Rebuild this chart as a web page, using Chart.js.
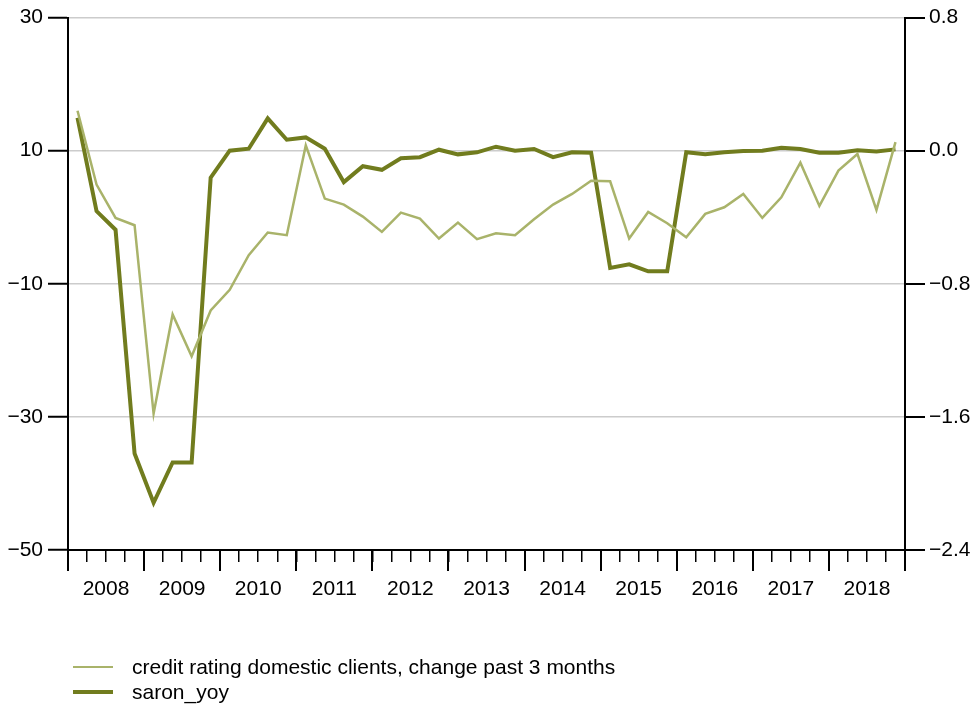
<!DOCTYPE html>
<html>
<head>
<meta charset="utf-8">
<script src="https://cdn.jsdelivr.net/npm/chart.js@4"></script>
<style>
  body { margin: 0; background: #fff; }
  #wrap { position: relative; width: 977px; height: 708px; }
  #legend { position: absolute; left: 73px; top: 654px; font: 21px "Liberation Sans", Arial, sans-serif; color: #000; }
  .item { display: flex; align-items: center; height: 25px; }
  .swatch { width: 40px; margin-right: 19px; }
</style>
</head>
<body>
<div id="wrap">
  <canvas id="chart" width="977" height="708"></canvas>
  <div id="legend"></div>
</div>
<script>
const years = ['2008', '2009', '2010', '2011', '2012', '2013', '2014', '2015', '2016', '2017', '2018'];
const leftTicks = [-50, -30, -10, 10, 30];
const rightTicks = [-2.4, -1.6, -0.8, 0.0, 0.8];

// quarterly, 2008Q1 .. 2018Q4
const creditRating = [16.0, 4.9, -0.1, -1.2, -29.5, -14.6, -20.9, -14.0, -10.9, -5.7, -2.3, -2.7,
  10.8, 2.8, 1.9, 0.1, -2.2, 0.7, -0.2, -3.2, -0.8, -3.3, -2.4, -2.7,
  -0.3, 1.9, 3.5, 5.5, 5.4, -3.2, 0.8, -0.9, -3.0, 0.5, 1.5, 3.5,
  -0.1, 3.0, 8.2, 1.7, 7.0, 9.5, 1.1, 11.3];
const saronYoy = [0.198, -0.363, -0.475, -1.82, -2.116, -1.874, -1.874, -0.162, 0.0, 0.012, 0.194, 0.066,
  0.08, 0.012, -0.189, -0.093, -0.115, -0.045, -0.039, 0.006, -0.022, -0.01, 0.024, 0.0,
  0.01, -0.039, -0.009, -0.012, -0.705, -0.683, -0.725, -0.725, -0.009, -0.022, -0.01, -0.002,
  0.0, 0.018, 0.01, -0.012, -0.012, 0.003, -0.005, 0.008];

const lightCol = '#a9b36a';
const darkCol = '#717c1e';
const minus = s => String(s).replace('-', '\u2212');
const font = { family: '"Liberation Sans", Arial, sans-serif', size: 21 };

// longer tick marks at the year boundaries
const yearTicks = {
  id: 'yearTicks',
  afterDraw(chart) {
    const xs = chart.scales.x;
    const c = chart.ctx;
    c.save();
    c.strokeStyle = '#000';
    c.lineWidth = 2;
    for (let v = 0; v <= years.length * 4; v += 4) {
      const px = Math.round(xs.getPixelForValue(v));
      c.beginPath();
      c.moveTo(px, xs.top);
      c.lineTo(px, xs.top + 21);
      c.stroke();
    }
    c.restore();
  }
};

const chart = new Chart(document.getElementById('chart'), {
  type: 'line',
  data: {
    datasets: [{
      label: 'credit rating domestic clients, change past 3 months',
      data: creditRating.map((v, i) => ({ x: i + 0.5, y: v })),
      borderColor: lightCol,
      backgroundColor: lightCol,
      borderWidth: 2.5,
      pointRadius: 0,
      yAxisID: 'y'
    }, {
      label: 'saron_yoy',
      data: saronYoy.map((v, i) => ({ x: i + 0.5, y: v })),
      borderColor: darkCol,
      backgroundColor: darkCol,
      borderWidth: 4,
      pointRadius: 0,
      yAxisID: 'y2'
    }]
  },
  options: {
    responsive: false,
    animation: false,
    layout: { padding: { top: 17, left: 0, right: 0, bottom: 0 } },
    plugins: { legend: { display: false }, tooltip: { enabled: false } },
    scales: {
      x: {
        type: 'linear',
        min: 0,
        max: years.length * 4,
        afterBuildTicks: s => { s.ticks = Array.from({ length: years.length * 4 + 1 }, (_, i) => ({ value: i })); },
        afterFit: s => { s.height = 158; },
        grid: { drawOnChartArea: false, tickLength: 12, tickColor: '#000', lineWidth: 1.5 },
        border: { color: '#000', width: 2 },
        ticks: {
          autoSkip: false, maxRotation: 0, padding: 15, color: '#000', font,
          callback: v => (v % 4 === 2 ? years[(v - 2) / 4] : '')
        }
      },
      y: {
        position: 'left',
        min: -50,
        max: 30,
        afterBuildTicks: s => { s.ticks = leftTicks.map(v => ({ value: v })); },
        afterFit: s => { s.width = 68; },
        grid: { color: '#cccccc', lineWidth: 1.5, tickLength: 20, tickColor: '#000', tickWidth: 2 },
        border: { color: '#000', width: 2 },
        ticks: { padding: 5, color: '#000', font, callback: v => minus(v) }
      },
      y2: {
        position: 'right',
        min: -2.4,
        max: 0.8,
        afterBuildTicks: s => { s.ticks = rightTicks.map(v => ({ value: v })); },
        afterFit: s => { s.width = 72; },
        grid: { drawOnChartArea: false, tickLength: 20, tickColor: '#000', lineWidth: 2 },
        border: { color: '#000', width: 2 },
        ticks: { padding: 4, color: '#000', font, callback: v => minus(v.toFixed(1)) }
      }
    }
  },
  plugins: [yearTicks]
});

const legend = document.getElementById('legend');
chart.data.datasets.forEach(ds => {
  const row = document.createElement('div');
  row.className = 'item';
  const sw = document.createElement('div');
  sw.className = 'swatch';
  sw.style.borderTop = ds.borderWidth + 'px solid ' + ds.borderColor;
  const txt = document.createElement('span');
  txt.textContent = ds.label;
  row.appendChild(sw);
  row.appendChild(txt);
  legend.appendChild(row);
});
</script>
</body>
</html>
